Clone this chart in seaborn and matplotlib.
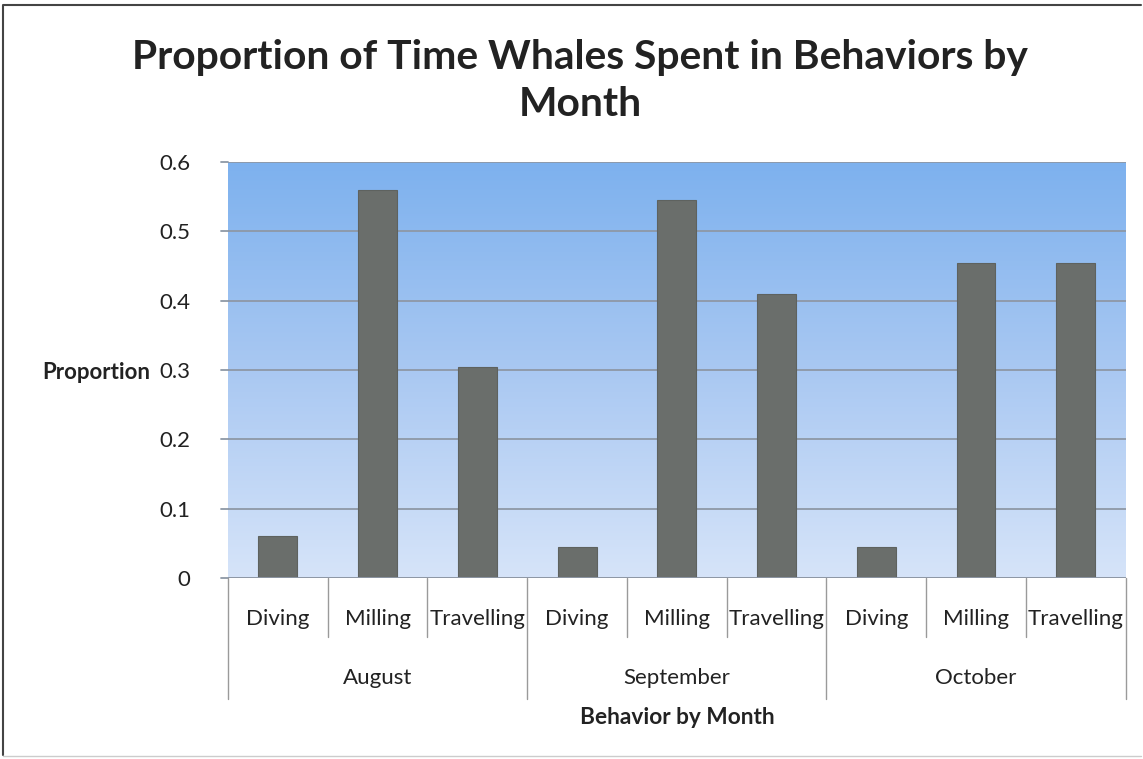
import numpy as np
import pandas as pd
import matplotlib
matplotlib.use("Agg")
import matplotlib.pyplot as plt
import matplotlib.transforms as mtransforms
from matplotlib.colors import LinearSegmentedColormap
from matplotlib.lines import Line2D
import seaborn as sns

# Chart data
months = ["August", "September", "October"]
behaviors = ["Diving", "Milling", "Travelling"]
proportion_aug = [0.06, 0.56, 0.305]
proportion_sep = [0.045, 0.545, 0.41]
proportion_oct = [0.045, 0.455, 0.455]
y_ticks = [0, 0.1, 0.2, 0.3, 0.4, 0.5, 0.6]

sns.set_theme(style="white")
plt.rcParams["font.family"] = ["Lato", "DejaVu Sans"]

rows = []
for month, vals in zip(months, [proportion_aug, proportion_sep, proportion_oct]):
    for beh, v in zip(behaviors, vals):
        rows.append({"slot": f"{month}-{beh}", "month": month, "behavior": beh, "proportion": v})
df = pd.DataFrame(rows)

fig = plt.figure(figsize=(11.43, 7.59), dpi=100)
ax = fig.add_axes([0.1995, 0.2385, 0.7853, 0.5481])

# vertical blue gradient behind the plot area
grad_cmap = LinearSegmentedColormap.from_list("sky", ["#d6e4f9", "#a9c8f2", "#7db1ee"])
grad = np.linspace(0, 1, 256).reshape(-1, 1)
ax.imshow(grad, cmap=grad_cmap, origin="lower", aspect="auto",
          extent=[0, 1, 0, 1], transform=ax.transAxes, zorder=0)

sns.barplot(data=df, x="slot", y="proportion", color="#6a6e6b", width=0.39,
            saturation=1, ax=ax, zorder=3, edgecolor="#5e625f", linewidth=0.8)

ax.set_xlim(-0.5, len(df) - 0.5)
ax.set_ylim(0, 0.6)
ax.set_yticks(y_ticks)
ax.set_yticklabels(["0" if t == 0 else f"{t:g}" for t in y_ticks])
ax.tick_params(axis="y", labelsize=16, colors="#222222", pad=27, length=0)
ax.yaxis.grid(True, color="#8e98a6", linewidth=1.3, zorder=1)
ax.set_axisbelow(False)
for spine in ax.spines.values():
    spine.set_visible(False)

# short tick marks to the left of the plot area
tr_y = mtransforms.blended_transform_factory(ax.transAxes, ax.transData)
for t in y_ticks:
    ax.add_line(Line2D([-0.008, 0], [t, t], transform=tr_y, color="#8e98a6",
                       linewidth=1.3, clip_on=False))
ax.axhline(0, color="#8e98a6", linewidth=1.3, zorder=4)

# behavior labels and group labels below the axis
ax.set_xticks(range(len(df)))
ax.set_xticklabels(df["behavior"])
ax.tick_params(axis="x", labelsize=16, colors="#222222", pad=22, length=0)
ax.set_xlabel("")
ax.set_ylabel("")

tr_x = mtransforms.blended_transform_factory(ax.transData, ax.transAxes)
n = len(behaviors)
for i in range(len(df) + 1):
    x = i - 0.5
    bottom = -0.29 if i % n == 0 else -0.143
    ax.add_line(Line2D([x, x], [0, bottom], transform=tr_x, color="#9a9a9a",
                       linewidth=1.0, clip_on=False))
for j, month in enumerate(months):
    ax.text(j * n + (n - 1) / 2, -0.24, month, transform=tr_x, ha="center",
            va="center", fontsize=16, color="#222222")

ax.text(0.5, -0.335, "Behavior by Month", transform=ax.transAxes, ha="center",
        va="center", fontsize=16.3, fontweight="bold", color="#222222")
fig.text(96 / 1143, 1 - 372 / 759, "Proportion", ha="center", va="center",
         fontsize=16, fontweight="bold", color="#222222")

fig.text(580 / 1143, 1 - 57 / 759, "Proportion of Time Whales Spent in Behaviors by",
         ha="center", va="center", fontsize=29.3, fontweight="bold", color="#222222")
fig.text(580 / 1143, 1 - 104 / 759, "Month",
         ha="center", va="center", fontsize=29.3, fontweight="bold", color="#222222")

# outer frame of the chart area
frame_x = [3 / 1143, 3 / 1143, 1141 / 1143]
frame_y = [4 / 759, 1 - 5 / 759, 1 - 5 / 759]
fig.add_artist(Line2D(frame_x, frame_y, transform=fig.transFigure,
                      color="#444444", linewidth=1.5))
fig.add_artist(Line2D([3 / 1143, 1141 / 1143], [3 / 759, 3 / 759],
                      transform=fig.transFigure, color="#cccccc", linewidth=1.0))

fig.savefig("out.png", dpi=100, facecolor="white")
